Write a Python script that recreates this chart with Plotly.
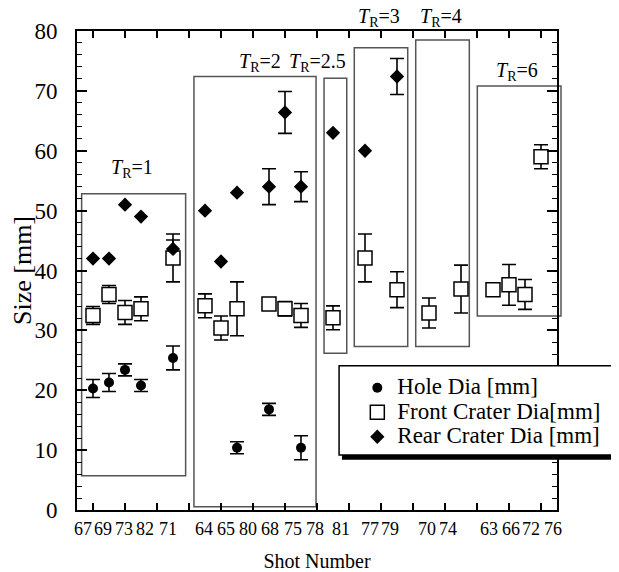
import plotly.graph_objects as go

# ---------------- data ----------------
shots = ["67", "69", "73", "82", "71", "64", "65", "80", "68", "75", "78",
         "81", "77", "79", "70", "74", "63", "66", "72", "76"]
slot = [1, 2, 3, 4, 6, 8, 9, 10, 12, 13, 14, 16, 18, 20, 22, 24, 26, 27, 28, 29]

hole = [20.3, 21.3, 23.4, 20.8, 25.4, None, None, 10.4, 16.8, None, 10.4,
        None, None, None, None, None, None, None, None, None]
hole_err = [1.5, 1.5, 1.0, 1.0, 2.0, None, None, 1.0, 1.0, None, 2.0,
            None, None, None, None, None, None, None, None, None]

front = [32.5, 36.0, 33.0, 33.6, 42.1, 34.1, 30.4, 33.6, 34.4, 33.6, 32.5,
         32.1, 42.1, 36.8, 32.9, 36.9, 36.8, 37.6, 36.0, 59.0]
front_err = [1.5, 1.5, 2.0, 2.0, 4.0, 2.0, 2.0, 4.5, None, 1.2, 2.0,
             2.0, 4.0, 3.0, 2.5, 4.0, None, 3.4, 2.5, 2.0]

rear = [42.0, 42.0, 51.0, 49.0, 43.6, 50.0, 41.5, 53.0, 54.0, 66.4, 54.0,
        63.0, 60.0, 72.4, None, None, None, None, None, None]
rear_err = [None, None, None, None, 1.5, None, None, None, 3.0, 3.5, 2.5,
            None, None, 3.0, None, None, None, None, None, None]

groups = ["1", "2", "2.5", "3", "4", "6"]
series_names = ["Hole Dia [mm]", "Front Crater Dia[mm]", "Rear Crater Dia [mm]"]

# ---------------- layout constants ----------------
FONT = "'Liberation Serif', 'Times New Roman', serif"
label_x = [0.37, 1.63, 2.94, 4.25, 5.69, 7.94, 9.31, 10.66, 12.06, 13.5, 14.88,
           16.5, 18.3, 19.56, 21.9, 23.16, 25.75, 27.1, 28.4, 29.75]
# box extents (x0, x1, y0, y1) in data units
boxes = [(0.29, 6.79, 5.7, 52.8), (7.31, 14.94, 0.55, 72.4), (15.44, 16.86, 26.2, 72.1),
         (17.33, 20.67, 27.3, 77.2), (21.17, 24.52, 27.3, 78.5), (25.02, 30.25, 32.4, 70.8)]
group_lbl_pos = [(3.44, 57.0), (11.44, 74.8), (15.06, 74.8), (18.88, 82.2), (22.72, 82.2), (27.5, 73.3)]
XMAX, YMAX = 30, 80

fig = go.Figure()


def err_trace(vals, errs):
    idx = [i for i in range(len(vals)) if vals[i] is not None and errs[i] is not None]
    return go.Scatter(
        x=[slot[i] for i in idx], y=[vals[i] for i in idx], mode="markers",
        marker=dict(size=1, color="rgba(0,0,0,0)"), showlegend=False, hoverinfo="skip",
        error_y=dict(type="data", array=[errs[i] for i in idx], visible=True,
                     color="black", thickness=1.6, width=7),
    )


def legend_name(s):
    return "<span style='font-size:23px'>" + s + "</span>"


fig.add_trace(err_trace(hole, hole_err))
fig.add_trace(err_trace(front, front_err))
fig.add_trace(err_trace(rear, rear_err))

fig.add_trace(go.Scatter(x=slot, y=hole, mode="markers", name=legend_name(series_names[0]),
                         marker=dict(symbol="circle", size=10, color="black")))
fig.add_trace(go.Scatter(x=slot, y=front, mode="markers", name=legend_name(series_names[1]),
                         marker=dict(symbol="square", size=14, color="white",
                                     line=dict(color="black", width=1.5))))
fig.add_trace(go.Scatter(x=slot, y=rear, mode="markers", name=legend_name(series_names[2]),
                         marker=dict(symbol="diamond", size=11, color="black")))

shapes = []
for (x0, x1, y0, y1) in boxes:
    shapes.append(dict(type="rect", xref="x domain", yref="y domain",
                       x0=x0 / XMAX, x1=x1 / XMAX, y0=y0 / YMAX, y1=y1 / YMAX,
                       line=dict(color="#555555", width=1.5), layer="below"))

# legend frame with shadow
lx0, lx1, ly0, ly1 = 0.546, 1.121, 0.115, 0.301
shapes.append(dict(type="rect", xref="paper", yref="paper",
                   x0=lx0 + 0.006, x1=lx1 + 0.006, y0=ly0 - 0.010, y1=ly1 - 0.010,
                   fillcolor="black", line=dict(width=0), layer="above"))
shapes.append(dict(type="rect", xref="paper", yref="paper",
                   x0=lx0, x1=lx1, y0=ly0, y1=ly1,
                   fillcolor="white", line=dict(color="black", width=1.5), layer="above"))

annotations = []
for lab, lx in zip(shots, label_x):
    annotations.append(dict(x=lx, y=0, xref="x", yref="paper", yshift=-19, text=lab,
                            showarrow=False, font=dict(family=FONT, size=18, color="black"),
                            xanchor="center", yanchor="middle"))
for g, (gx, gy) in zip(groups, group_lbl_pos):
    annotations.append(dict(x=gx / XMAX, y=gy / YMAX, xref="x domain", yref="y domain",
                            text="<i>T</i><sub>R</sub>=" + g, showarrow=False,
                            font=dict(family=FONT, size=20, color="black"),
                            xanchor="center", yanchor="middle"))

# the page body adds an 8 px offset; margins compensate so the plot area
# lands at x 77..557, y 31..510 in the window
fig.update_layout(
    width=619, height=572,
    margin=dict(l=69, r=70, t=23, b=70, autoexpand=False),
    paper_bgcolor="white", plot_bgcolor="white",
    font=dict(family=FONT, color="black"),
    shapes=shapes, annotations=annotations,
    legend=dict(x=0.584, y=0.291, xanchor="left", yanchor="top",
                bgcolor="rgba(0,0,0,0)", borderwidth=0,
                font=dict(family=FONT, size=16.5, color="black")),
    xaxis=dict(range=[0, XMAX], tickvals=list(range(1, 30, 2)), showticklabels=False,
               ticks="inside", ticklen=7, tickwidth=1.5, tickcolor="black",
               showline=True, linewidth=2, linecolor="black", mirror="ticks",
               showgrid=False, zeroline=False, automargin=False,
               title=dict(text="Shot Number", standoff=43,
                          font=dict(family=FONT, size=20))),
    yaxis=dict(range=[0, YMAX], dtick=10, ticks="inside", ticklen=10, tickwidth=1.5,
               tickcolor="black", showline=True, linewidth=2, linecolor="black",
               mirror="ticks", showgrid=False, zeroline=False, automargin=False,
               tickfont=dict(family=FONT, size=23), ticklabelstandoff=13,
               minor=dict(dtick=2, ticks="inside", ticklen=5, tickwidth=1.2, tickcolor="black"),
               title=dict(text="Size [mm]", standoff=5,
                          font=dict(family=FONT, size=26))),
)

fig.write_html("out.html")
